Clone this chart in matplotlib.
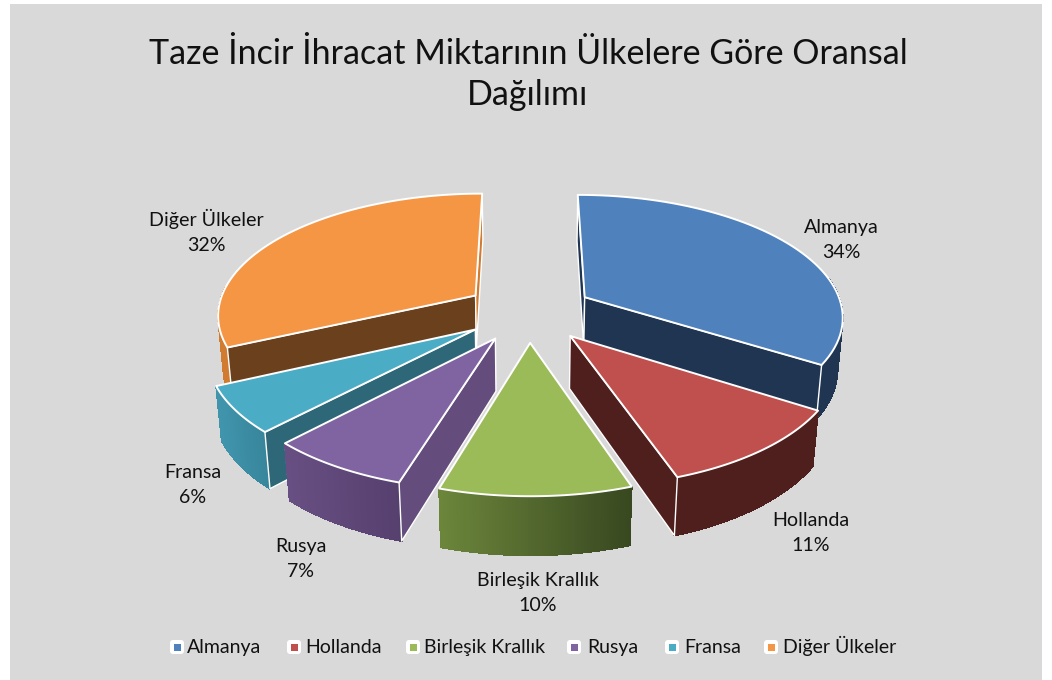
import matplotlib
matplotlib.use('Agg')
import matplotlib.pyplot as plt
import numpy as np
from matplotlib.patches import Polygon, Rectangle, FancyBboxPatch
from matplotlib.colors import to_rgb

plt.rcParams['font.family'] = ['Lato', 'DejaVu Sans']

title = 'Taze İncir İhracat Miktarının Ülkelere Göre Oransal\nDağılımı'
countries = ['Almanya', 'Hollanda', 'Birleşik Krallık', 'Rusya', 'Fransa', 'Diğer Ülkeler']
shares = [34.0, 10.75, 9.95, 7.4, 6.0, 31.9]

top_colors = ['#4F81BD', '#C0504D', '#9BBB59', '#8064A2', '#4BACC6', '#F59645']
start_wall = ['#1F3552', '#4F1F1E', '#3A4A20', '#644D7C', '#2E6878', '#6B411D']
end_wall = ['#1F3552', '#4F1F1E', '#6A8439', '#644D7C', '#2E6878', '#D07B30']
outer_from = ['#1F3552', '#4F1F1E', '#6C863B', '#684F83', '#4095AD', '#D07B30']
outer_to = ['#1F3552', '#4F1F1E', '#384820', '#56406E', '#37859B', '#D07B30']

label_xy = [(841, 240), (811, 533), (538, 593), (301, 559), (193, 485), (206, 231)]
legend_box_x = [177, 294, 413, 574, 672, 771]
legend_text_x = [187, 305, 424, 587, 684, 783]

# projection of the tilted pie, fitted by eye
cx, cy = 529, 311.5
A, B, H = 258.6, 121, 52.5
persp = 0.145
persp_z = 0.017
explode = 0.25


def project(x, y, z=0.0):
    w = 1 + persp * y + persp_z * z
    return cx + A * x / w, cy - B * y / w + H * z / w


def rim(t, dx, dy, z=0.0):
    return project(np.sin(t) + dx, np.cos(t) + dy, z)


def area(pts):
    p = np.array(pts)
    return 0.5 * np.sum(p[:, 0] * np.roll(p[:, 1], -1) - np.roll(p[:, 0], -1) * p[:, 1])


fig = plt.figure(figsize=(10.52, 6.80), dpi=100, facecolor='white')
ax = fig.add_axes([0, 0, 1, 1])
ax.set_xlim(0, 1052)
ax.set_ylim(680, 0)
ax.axis('off')
ax.add_patch(Rectangle((10, 4), 1032, 676, fc='#D9D9D9', ec='none', zorder=0))

edges = np.radians(np.cumsum([0] + shares) * 3.6)
draw_order = [5, 0, 4, 1, 3, 2]

for z0, i in enumerate(draw_order):
    t0, t1 = edges[i], edges[i + 1]
    tm = (t0 + t1) / 2
    dx, dy = explode * np.sin(tm), explode * np.cos(tm)
    zo = 10 + z0 * 10
    apex = project(dx, dy)
    apex_b = project(dx, dy, 1)
    ts = np.linspace(t0, t1, 60)
    top_arc = [rim(t, dx, dy) for t in ts]
    bot_arc = [rim(t, dx, dy, 1) for t in ts]

    # side walls, drawn only when they face the viewer
    wall_a = [apex, top_arc[0], bot_arc[0], apex_b]
    wall_b = [apex, top_arc[-1], bot_arc[-1], apex_b]
    show_a = area(wall_a) < 0
    show_b = area(wall_b) > 0

    # outer wall with left-to-right shading
    vis = [k for k in range(len(ts)) if 1.4 <= ts[k] <= 3 * np.pi / 2 + 0.1]
    if vis:
        c0, c1 = np.array(to_rgb(outer_from[i])), np.array(to_rgb(outer_to[i]))
        xs = np.array([p[0] for p in top_arc])
        base = [top_arc[k] for k in vis] + [bot_arc[k] for k in vis[::-1]]
        ax.add_patch(Polygon(base, fc=(c0 + c1) / 2, ec='#D8D8D8', lw=0.9, zorder=zo))
        for k in vis[:-1]:
            f = (xs[k] - xs.min()) / max(xs.max() - xs.min(), 1)
            col = c0 + (c1 - c0) * f
            q = [top_arc[k], top_arc[k + 1], bot_arc[k + 1], bot_arc[k]]
            ax.add_patch(Polygon(q, fc=col, ec=col, lw=0.6, antialiased=False, zorder=zo + 1))

    if show_a:
        ax.add_patch(Polygon(wall_a, fc=start_wall[i], ec='white', lw=1.0, joinstyle='round', zorder=zo + 2))
    if show_b:
        ax.add_patch(Polygon(wall_b, fc=end_wall[i], ec='white', lw=1.0, joinstyle='round', zorder=zo + 2))

    # top face
    ax.add_patch(Polygon([apex] + top_arc, fc=top_colors[i], ec='white', lw=1.4,
                         joinstyle='round', zorder=zo + 3))

    ax.text(label_xy[i][0], label_xy[i][1], f'{countries[i]}\n{shares[i]:.0f}%', ha='center', va='center',
            fontsize=14.1, color='#111111', linespacing=1.58, zorder=200)

ax.text(528, 74.5, title, ha='center', va='center', fontsize=24.5, color='#111111', linespacing=1.33, zorder=200)

for i, name in enumerate(countries):
    bx = legend_box_x[i]
    ax.add_patch(FancyBboxPatch((bx - 5, 642), 10, 10, boxstyle='round,pad=2,rounding_size=3',
                                fc='white', ec='none', zorder=200))
    ax.add_patch(Rectangle((bx - 3.5, 643.5), 7, 7, fc=top_colors[i], ec='none', zorder=201))
    ax.text(legend_text_x[i], 653, name, ha='left', va='baseline', fontsize=14, color='#111111', zorder=200)

fig.savefig('out.png', dpi=100)
